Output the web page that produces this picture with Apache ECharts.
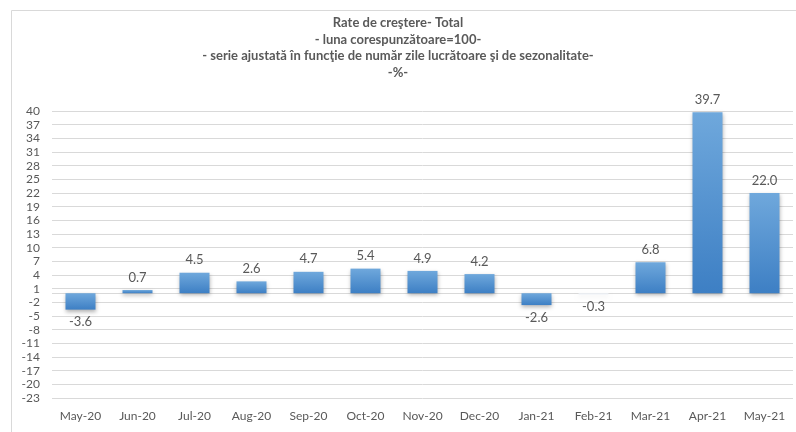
<!DOCTYPE html>
<html>
<head>
<meta charset="utf-8">
<script src="https://cdn.jsdelivr.net/npm/echarts@6/dist/echarts.min.js"></script>
<style>
  html, body { margin: 0; padding: 0; background: #fff; }
  #chart { width: 796px; height: 432px; }
</style>
</head>
<body>
<div id="chart"></div>
<script>
const months = ['May-20', 'Jun-20', 'Jul-20', 'Aug-20', 'Sep-20', 'Oct-20', 'Nov-20',
  'Dec-20', 'Jan-21', 'Feb-21', 'Mar-21', 'Apr-21', 'May-21']
const growth = [-3.6, 0.7, 4.5, 2.6, 4.7, 5.4, 4.9, 4.2, -2.6, -0.3, 6.8, 39.7, 22.0]
const yTicks = [-23, -20, -17, -14, -11, -8, -5, -2, 1, 4, 7, 10, 13, 16, 19, 22, 25, 28, 31, 34, 37, 40]

const titleLines = [
  'Rate de creştere- Total',
  '- luna corespunzătoare=100-',
  '- serie ajustată în funcţie de număr zile lucrătoare şi de sezonalitate-',
  '-%-'
]

const txt = '#595959'
const font = 'Lato'

const chart = echarts.init(document.getElementById('chart'), null, { renderer: 'canvas' })

const barColor = new echarts.graphic.LinearGradient(0, 0, 0, 1, [
  { offset: 0, color: '#6fa8dc' },
  { offset: 1, color: '#3d7fc4' }
])

chart.setOption({
  animation: false,
  textStyle: { fontFamily: font },
  graphic: [{
    type: 'rect',
    shape: { x: 11.5, y: 10.5, width: 800, height: 440 },
    style: { fill: 'none', stroke: '#d9d9d9', lineWidth: 1 },
    silent: true
  }],
  title: {
    text: titleLines.join('\n'),
    left: 'center',
    top: 10,
    textStyle: {
      fontFamily: font,
      fontSize: 13,
      fontWeight: 'bold',
      color: txt,
      lineHeight: 16.5
    }
  },
  grid: { left: 52, right: 3, top: 111, bottom: 34 },
  xAxis: {
    type: 'category',
    data: months,
    axisLine: { show: false, onZero: false },
    axisTick: { show: false },
    axisLabel: {
      color: txt,
      fontFamily: font,
      fontSize: 12,
      margin: 12,
      interval: 0
    }
  },
  yAxis: {
    type: 'value',
    min: -23,
    max: 40,
    axisLine: { show: false },
    axisTick: { show: false, customValues: yTicks },
    axisLabel: {
      customValues: yTicks,
      color: txt,
      fontFamily: font,
      fontSize: 12,
      margin: 12
    },
    splitLine: { show: true, lineStyle: { color: '#d9d9d9', width: 1 } }
  },
  series: [
    {
      type: 'bar',
      barWidth: 30,
      data: growth.map((v, i) => ({
        value: v,
        itemStyle: months[i] === 'Feb-21' ? { color: '#eef2f7', shadowColor: 'rgba(0,0,0,0.08)' } : undefined,
        label: { position: v < 0 ? 'bottom' : 'top' }
      })),
      itemStyle: {
        color: barColor,
        shadowColor: 'rgba(0,0,0,0.3)',
        shadowBlur: 4,
        shadowOffsetY: 2
      },
      label: {
        show: true,
        color: txt,
        fontFamily: font,
        fontSize: 13,
        distance: 6,
        formatter: (p) => p.value.toFixed(1)
      },
      markLine: {
        silent: true,
        symbol: 'none',
        label: { show: false },
        lineStyle: { color: '#d9d9d9', type: 'solid', width: 1 },
        data: [{ yAxis: 0 }],
        z: 1
      }
    }
  ]
})
</script>
</body>
</html>
